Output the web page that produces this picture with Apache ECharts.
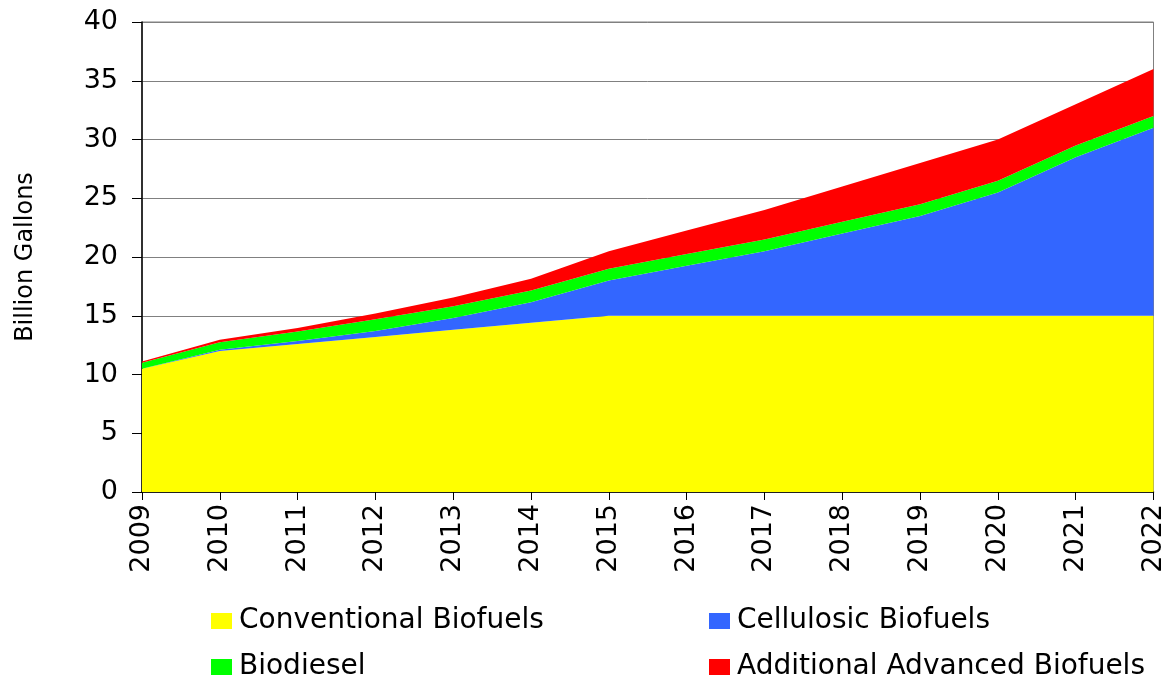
<!DOCTYPE html>
<html><head><meta charset="utf-8">
<script src="https://cdn.jsdelivr.net/npm/echarts@6/dist/echarts.min.js"></script>
<style>html,body{margin:0;padding:0;background:#fff}#c{width:1167px;height:676px}</style>
</head><body><div id="c"></div>
<script>
const years = ['2009','2010','2011','2012','2013','2014','2015','2016','2017','2018','2019','2020','2021','2022'];
const conventional = [10.5, 12.0, 12.6, 13.2, 13.8, 14.4, 15, 15, 15, 15, 15, 15, 15, 15];
const cellulosic = [0, 0.1, 0.25, 0.5, 1.0, 1.75, 3.0, 4.25, 5.5, 7.0, 8.5, 10.5, 13.5, 16.0];
const biodiesel = [0.5, 0.65, 0.8, 1.0, 1.0, 1.0, 1.0, 1.0, 1.0, 1.0, 1.0, 1.0, 1.0, 1.0];
const additional = [0.1, 0.2, 0.3, 0.5, 0.75, 1.0, 1.5, 2.0, 2.5, 3.0, 3.5, 3.5, 3.5, 4.0];
const yTicks = [0, 5, 10, 15, 20, 25, 30, 35, 40];

const font = 'DejaVu Sans, Liberation Sans, Arial, sans-serif';
function areaSeries(name, data, color) {
  return {
    name, type: 'line', stack: 'total', data,
    symbol: 'none', lineStyle: { width: 0 },
    areaStyle: { color, opacity: 1 }, itemStyle: { color },
    emphasis: { disabled: true }, z: 2
  };
}
function legendAt(name, left, top) {
  return {
    data: [name], left, top, padding: 0,
    itemWidth: 21, itemHeight: 16, itemGap: 0, icon: 'rect',
    selectedMode: false,
    textStyle: { fontSize: 28, fontFamily: font, color: '#000', padding: [0, 0, 0, 2] }
  };
}
const chart = echarts.init(document.getElementById('c'));
chart.setOption({
  animation: false,
  backgroundColor: '#fff',
  grid: { left: 142, right: 8, top: 22, bottom: 184, show: true, borderColor: '#808080', borderWidth: 1 },
  xAxis: {
    type: 'category', data: years, boundaryGap: false,
    axisLine: { lineStyle: { color: '#000', width: 1.5 } },
    axisTick: { show: true, length: 8, alignWithLabel: true, lineStyle: { color: '#000' } },
    axisLabel: { rotate: 90, color: '#000', fontSize: 27, fontFamily: font, margin: 12, interval: 0 },
    splitLine: { show: false }
  },
  yAxis: {
    type: 'value', min: yTicks[0], max: yTicks[yTicks.length - 1], interval: 5,
    name: 'Billion Gallons', nameLocation: 'middle', nameGap: 104, nameRotate: 90,
    nameTextStyle: { color: '#000', fontSize: 24, fontFamily: font },
    axisLine: { show: true, lineStyle: { color: '#000', width: 1.5 } },
    axisTick: { show: true, length: 10, lineStyle: { color: '#000' } },
    axisLabel: { color: '#000', fontSize: 27, fontFamily: font, margin: 24 },
    splitLine: { show: true, lineStyle: { color: '#808080', width: 1 } }
  },
  legend: [
    legendAt('Conventional Biofuels', 211, 607),
    legendAt('Biodiesel', 211, 653),
    legendAt('Cellulosic Biofuels', 709, 607),
    legendAt('Additional Advanced Biofuels', 709, 653)
  ],
  series: [
    areaSeries('Conventional Biofuels', conventional, '#ffff00'),
    areaSeries('Cellulosic Biofuels', cellulosic, '#3366ff'),
    areaSeries('Biodiesel', biodiesel, '#00ff00'),
    areaSeries('Additional Advanced Biofuels', additional, '#ff0000')
  ]
});
</script></body></html>
